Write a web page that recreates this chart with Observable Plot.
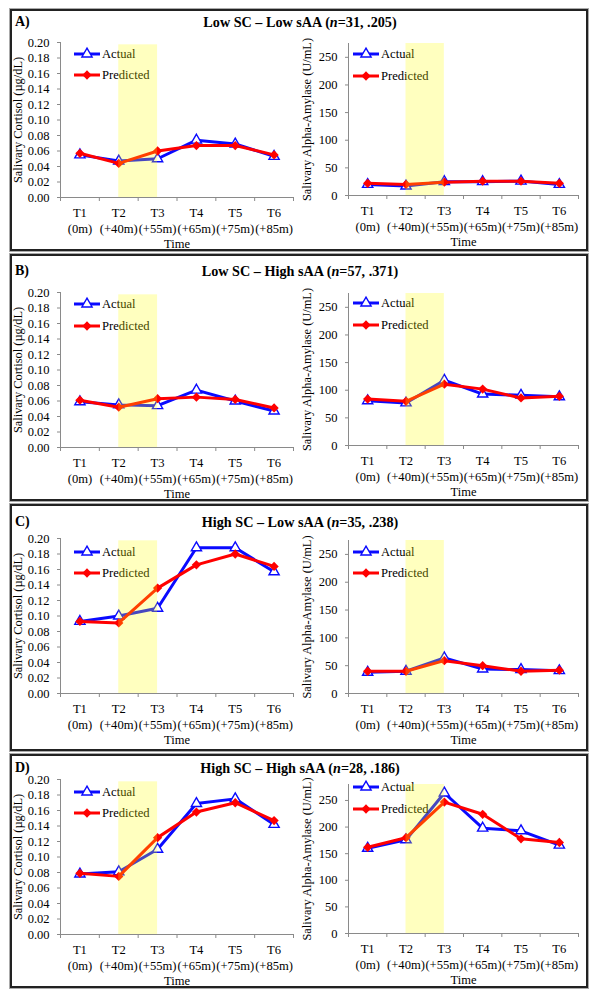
<!DOCTYPE html>
<html><head><meta charset="utf-8">
<script src="https://cdn.jsdelivr.net/npm/d3@7"></script>
<script src="https://cdn.jsdelivr.net/npm/@observablehq/plot@0.6"></script>
<style>
body{margin:0;background:#fff;font-family:"Liberation Serif","Times New Roman",serif;}
#root{position:relative;width:601px;height:999px;overflow:hidden;background:#fff;}
.box{position:absolute;box-sizing:border-box;border:2px solid #222;box-shadow:0 0 0 1px #aaa;}
.title{position:absolute;font-weight:bold;font-size:14.2px;transform:translate(-50%,-50%);white-space:nowrap;}
.letter{position:absolute;font-weight:bold;font-size:14px;transform:translateY(-50%);}
.chart{position:absolute;font-family:"Liberation Serif","Times New Roman",serif !important;}
.chart text, .chart tspan{font-family:"Liberation Serif","Times New Roman",serif !important;}
</style></head><body><div id="root"></div>
<script>
// ---------- data ----------
const timePoints = ["T1","T2","T3","T4","T5","T6"];
const timeOffsets = ["(0m)","(+40m)","(+55m)","(+65m)","(+75m)","(+85m)"];
const stressWindow = ["T2","T3"];
const panelLetters = ["A)","B)","C)","D)"];
const panelGroups = ["Low SC \u2013 Low sAA","Low SC \u2013 High sAA","High SC \u2013 Low sAA","High SC \u2013 High sAA"];
const panelN = [31,57,35,28];
const panelR = [".205",".371",".238",".186"];
const seriesNames = ["Actual","Predicted"];
const cortisolTicks = [0,0.02,0.04,0.06,0.08,0.10,0.12,0.14,0.16,0.18,0.20];
const amylaseTicks = [0,50,100,150,200,250];
const cortisolLabel = "Salivary Cortisol (\u00b5g/dL)";
const amylaseLabel = "Salivary Alpha-Amylase (U/mL)";
const xTitle = "Time";

const cortisolActualA = [0.055,0.047,0.050,0.074,0.069,0.053];
const cortisolPredictedA = [0.057,0.044,0.060,0.067,0.067,0.055];
const amylaseActualA = [20,17,25,25,26,20];
const amylasePredictedA = [22,20,24,26,26,22];

const cortisolActualB = [0.059,0.055,0.054,0.074,0.060,0.047];
const cortisolPredictedB = [0.061,0.052,0.063,0.065,0.062,0.051];
const amylaseActualB = [81,77,118,93,91,88];
const amylasePredictedB = [84,80,111,102,86,89];

const cortisolActualC = [0.093,0.100,0.110,0.188,0.188,0.157];
const cortisolPredictedC = [0.093,0.091,0.136,0.166,0.180,0.164];
const amylaseActualC = [38,40,64,44,43,41];
const amylasePredictedC = [40,40,59,50,40,42];

const cortisolActualD = [0.078,0.081,0.110,0.169,0.175,0.142];
const cortisolPredictedD = [0.079,0.075,0.125,0.158,0.170,0.147];
const amylaseActualD = [160,176,264,198,193,166];
const amylasePredictedD = [162,180,247,224,178,171];

// ---------- layout ----------
const panels = [
  {box:[9,251], titleY:22, L:[42,197], R:[43,195], rMax:275, legL:[54,75], legR:[54,76],
   ca:cortisolActualA, cp:cortisolPredictedA, aa:amylaseActualA, ap:amylasePredictedA},
  {box:[254,501], titleY:271, L:[292,447], R:[293,445], rMax:275, legL:[304,326], legR:[303,325],
   ca:cortisolActualB, cp:cortisolPredictedB, aa:amylaseActualB, ap:amylasePredictedB},
  {box:[504,751], titleY:522, L:[538,693], R:[540,693], rMax:275, legL:[552,573], legR:[552,573],
   ca:cortisolActualC, cp:cortisolPredictedC, aa:amylaseActualC, ap:amylasePredictedC},
  {box:[754,988], titleY:768, L:[779,934], R:[784,933], rMax:280, legL:[792,813], legR:[787,809],
   ca:cortisolActualD, cp:cortisolPredictedD, aa:amylaseActualD, ap:amylasePredictedD}
];

const BLUE = "#0a0aff", RED = "#ff0000", AXIS = "#8a8a8a";
const FONT = "'Liberation Serif','Times New Roman',serif";
const root = document.getElementById("root");

function makeChart(o) {
  const rows = timePoints.map((t, i) => ({x: i + 1, actual: o.actual[i], predicted: o.predicted[i]}));
  const x0 = 0.5, x1 = timePoints.length + 0.5;
  const boundaries = d3.range(x0, x1 + 0.001, 1);
  const band = [{x1: timePoints.indexOf(stressWindow[0]) + 1, x2: timePoints.indexOf(stressWindow[1]) + 1,
                 y1: o.yDomain[0], y2: o.yTop}];
  const height = o.svgBottom - o.svgTop;
  const plot = Plot.plot({
    width: o.width, height,
    marginTop: o.plotTop - o.svgTop, marginBottom: o.svgBottom - o.plotBottom,
    marginLeft: o.ml, marginRight: o.mr,
    style: {fontFamily: FONT, fontSize: "12px", background: "transparent", color: "#000", overflow: "visible"},
    x: {domain: [x0, x1], axis: null},
    y: {domain: o.yDomain, axis: null},
    marks: [
      Plot.ruleY([o.yDomain[0]], {stroke: AXIS, strokeWidth: 1}),
      Plot.ruleX([x0], {stroke: AXIS, strokeWidth: 1}),
      Plot.axisX(boundaries, {tickSize: 4, stroke: AXIS, tickFormat: () => "", label: null}),
      Plot.axisX(d3.range(1, timePoints.length + 1), {tickSize: 0, tickPadding: 9, lineHeight: 1.22, fontSize: 12.6,
        tickFormat: i => timePoints[i - 1] + "\n" + timeOffsets[i - 1], label: null, fill: "#000"}),
      Plot.axisY(o.ticks, {tickSize: 3, tickPadding: 8, stroke: AXIS, tickFormat: o.fmt, label: null, fill: "#000", fontSize: 12.5}),
      Plot.text([o.yLabel], {text: d => d, frameAnchor: "left", textAnchor: "middle", lineAnchor: "middle",
        rotate: -90, dx: o.labelDx, fontSize: 12.4, fill: "#000"}),
      Plot.text([xTitle], {text: d => d, frameAnchor: "bottom", textAnchor: "middle", lineAnchor: "middle",
        dy: 46, fontSize: 12.5, fill: "#000"}),
      Plot.line(rows, {x: "x", y: "actual", stroke: BLUE, strokeWidth: 3}),
      Plot.dot(rows, {x: "x", y: "actual", symbol: "triangle", r: 3.8, stroke: BLUE, fill: "#fff", strokeWidth: 1.4}),
      Plot.line(rows, {x: "x", y: "predicted", stroke: RED, strokeWidth: 3}),
      Plot.dot(rows, {x: "x", y: "predicted", symbol: "square", rotate: 45, r: 3.7, fill: RED}),
      Plot.rect(band, {x1: "x1", x2: "x2", y1: "y1", y2: "y2", fill: "#ffff00", fillOpacity: 0.25})
    ]
  });
  // legend
  const svg = d3.select(plot);
  const lg = svg.append("g").attr("text-anchor", "start");
  const colors = [BLUE, RED];
  seriesNames.forEach((name, i) => {
    const y = o.legendY[i] - o.svgTop;
    const xa = o.ml + o.legX[0], xb = o.ml + o.legX[1];
    lg.append("line").attr("x1", xa).attr("x2", xb).attr("y1", y).attr("y2", y)
      .attr("stroke", colors[i]).attr("stroke-width", 3);
    const sym = i === 0 ? d3.symbol(d3.symbolTriangle, 45)() : d3.symbol(d3.symbolSquare, 3.7 * 3.7 * Math.PI)();
    lg.append("path").attr("d", sym)
      .attr("transform", `translate(${(xa + xb) / 2},${y})` + (i === 1 ? " rotate(45)" : ""))
      .attr("fill", i === 0 ? "#fff" : RED).attr("stroke", i === 0 ? BLUE : "none").attr("stroke-width", 1.4);
    lg.append("text").attr("x", xb + 2).attr("y", y).attr("dy", "0.35em").attr("font-size", 12.6)
      .attr("text-anchor", "start").attr("fill", "#000").text(name);
  });
  svg.select('g[aria-label="rect"]').raise();
  plot.classList.add("chart");
  plot.style.left = o.left + "px";
  plot.style.top = o.svgTop + "px";
  root.appendChild(plot);
}

panels.forEach((p, k) => {
  const box = document.createElement("div");
  box.className = "box";
  box.style.left = "10px"; box.style.width = "578px";
  box.style.top = p.box[0] + "px"; box.style.height = (p.box[1] - p.box[0]) + "px";
  root.appendChild(box);

  const letter = document.createElement("div");
  letter.className = "letter"; letter.textContent = panelLetters[k];
  letter.style.left = "15px"; letter.style.top = p.titleY + "px";
  root.appendChild(letter);

  const title = document.createElement("div");
  title.className = "title";
  title.innerHTML = `${panelGroups[k]} (<i>n</i>=${panelN[k]}, ${panelR[k]})`;
  title.style.left = "300px"; title.style.top = p.titleY + "px";
  root.appendChild(title);

  const svgTop = p.box[0] + 14, svgBottom = p.box[1] - 2;
  makeChart({actual: p.ca, predicted: p.cp, yDomain: [0, 0.2], yTop: 0.197, ticks: cortisolTicks, fmt: d3.format(".2f"),
    yLabel: cortisolLabel, labelDx: -42, left: 10, width: 290, ml: 50, mr: 7,
    svgTop, svgBottom, plotTop: p.L[0], plotBottom: p.L[1], legendY: p.legL, legX: [14, 40]});
  makeChart({actual: p.aa, predicted: p.ap, yDomain: [0, p.rMax], yTop: p.rMax, ticks: amylaseTicks, fmt: d3.format("d"),
    yLabel: amylaseLabel, labelDx: -41, left: 300, width: 288, ml: 48, mr: 10,
    svgTop, svgBottom, plotTop: p.R[0], plotBottom: p.R[1], legendY: p.legR, legX: [5, 31]});
});
</script>
</body></html>
